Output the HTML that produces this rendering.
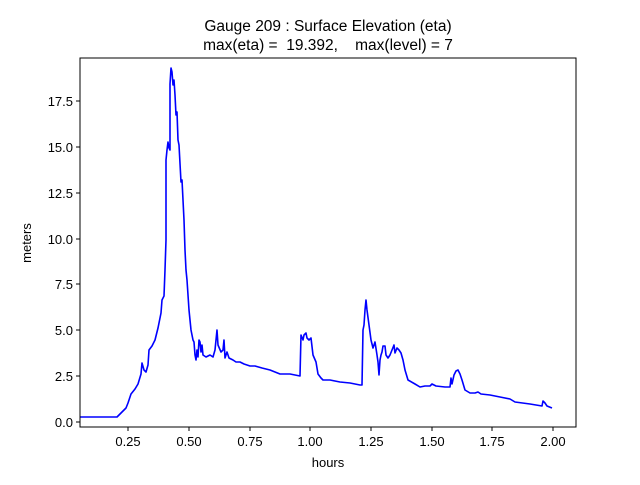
<!DOCTYPE html>
<html><head><meta charset="utf-8"><style>body{margin:0;background:#fff}</style></head><body>
<svg width="640" height="480" xmlns="http://www.w3.org/2000/svg" font-family="Liberation Sans, DejaVu Sans, sans-serif">
<rect width="640" height="480" fill="#fff"/>
<text x="328" y="31" font-size="15.5" text-anchor="middle">Gauge 209 : Surface Elevation (eta)</text>
<text x="328" y="50" font-size="15.5" text-anchor="middle" xml:space="preserve">max(eta) =  19.392,    max(level) = 7</text>
<polyline fill="none" stroke="#0000ff" stroke-width="1.6" stroke-linejoin="round" points="80,417 117,417 122,412 126,408 128,403 131,394 135,389 138,384 141,374 142,363 144,370 146,372 148,365 149,350 152,346 155,340 158,328 161,313 162,300 164,296 165,270 166,240 166,160 167,150 168,142 169,148 170,150 170,84 171,68 172,72 173,85 174,80 175,95 176,115 177,112 178,140 179,145 181,182 182,180 184,220 185,250 186,270 187,280 189,310 191,330 193,340 194,342 195,355 196,360 197,350 198,357 199,340 200,342 201,352 202,345 203,355 206,357 210,355 213,357 215,350 217,330 218,345 221,352 223,350 224,340 225,358 227,352 229,358 233,360 236,362 240,362 244,364 250,366 255,366 262,368 270,370 280,374 290,374 300,376 301,335 303,340 304,335 306,333 307,338 309,340 311,338 313,355 316,362 318,374 321,378 323,380 330,380 340,382 350,383 360,385 362,385 363,330 364,325 365,310 366,300 367,310 369,325 371,340 373,348 375,342 377,355 378,362 379,375 380,360 381,355 382,352 383,346 385,346 386,355 388,358 390,355 392,350 394,345 395,353 397,348 399,350 401,353 403,360 405,370 408,380 415,384 420,387 425,386 430,386 432,384 436,386 445,387 450,387 451,378 452,384 454,375 456,371 458,370 460,374 462,380 465,390 470,393 475,393 478,392 481,394 490,395 500,397 510,399 515,402 530,404 542,406 543,401 545,403 547,406 552,408"/>
<rect x="80" y="58" width="496" height="369" fill="none" stroke="#000" stroke-width="1"/>
<g stroke="#000" stroke-width="1">
<line x1="128" y1="427" x2="128" y2="431"/><line x1="189" y1="427" x2="189" y2="431"/><line x1="250" y1="427" x2="250" y2="431"/><line x1="310" y1="427" x2="310" y2="431"/><line x1="371" y1="427" x2="371" y2="431"/><line x1="432" y1="427" x2="432" y2="431"/><line x1="492" y1="427" x2="492" y2="431"/><line x1="553" y1="427" x2="553" y2="431"/>
<line x1="76" y1="422" x2="80" y2="422"/><line x1="76" y1="376" x2="80" y2="376"/><line x1="76" y1="330" x2="80" y2="330"/><line x1="76" y1="284" x2="80" y2="284"/><line x1="76" y1="239" x2="80" y2="239"/><line x1="76" y1="193" x2="80" y2="193"/><line x1="76" y1="147" x2="80" y2="147"/><line x1="76" y1="101" x2="80" y2="101"/>
</g>
<g font-size="13" text-anchor="middle">
<text x="128" y="446">0.25</text><text x="189" y="446">0.50</text><text x="250" y="446">0.75</text><text x="310" y="446">1.00</text><text x="371" y="446">1.25</text><text x="432" y="446">1.50</text><text x="492" y="446">1.75</text><text x="553" y="446">2.00</text>
<text x="328" y="467">hours</text>
</g>
<g font-size="13" text-anchor="end">
<text x="73" y="427">0.0</text><text x="73" y="381">2.5</text><text x="73" y="335">5.0</text><text x="73" y="289">7.5</text><text x="73" y="244">10.0</text><text x="73" y="198">12.5</text><text x="73" y="152">15.0</text><text x="73" y="106">17.5</text>
</g>
<text transform="translate(31,243) rotate(-90)" font-size="13" text-anchor="middle">meters</text>
</svg>
</body></html>
